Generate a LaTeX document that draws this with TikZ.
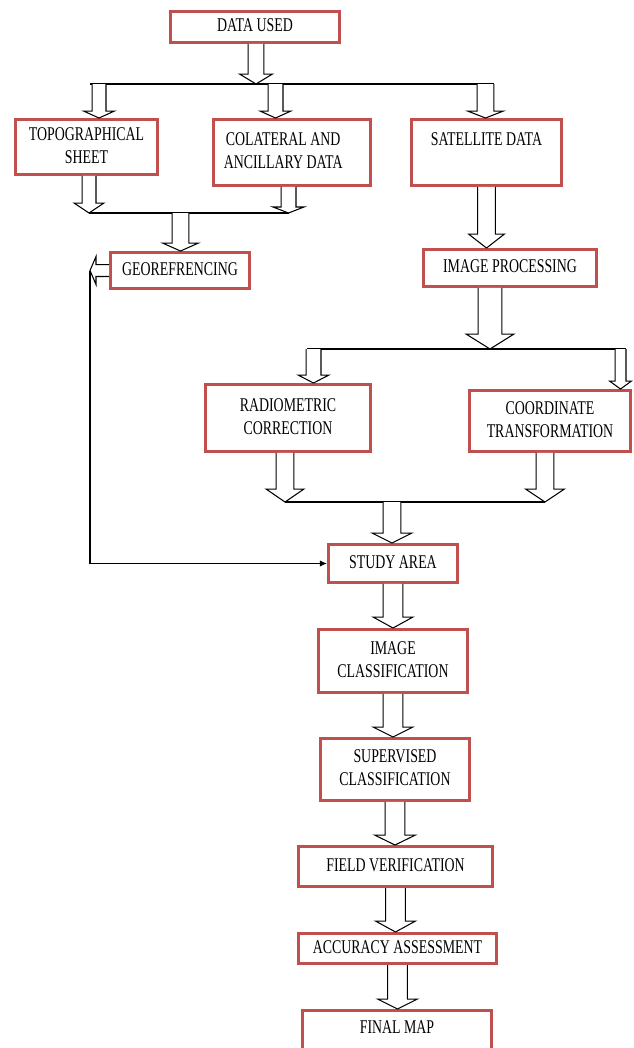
\documentclass[tikz,border=0pt]{standalone}
\usepackage{graphicx}
\usepackage{fontspec}
\setmainfont{Liberation Serif}
\usepackage{tikz}
\usetikzlibrary{calc,arrows.meta}
\definecolor{boxred}{HTML}{C0504D}
\newcommand{\pxu}{0.5669pt}
\newcommand{\vs}[1]{\scalebox{1}[1.4]{\begin{tabular}{@{}c@{}}#1\end{tabular}}}
\tikzstyle{Box}=[rectangle, draw=boxred, line width=1.7pt, fill=white, inner sep=2pt, font=\fontsize{7.9}{9.3}\selectfont]
\tikzstyle{Fat}=[draw=black, fill=white, line width=0.6pt, line join=miter]
\tikzstyle{Bar}=[draw=black, line width=0.6pt]
% hollow block arrow: start, tip, shaft half, head half, head length (px)
\newcommand{\fatarrow}[5]{%
  \path[Fat] let \p1=#1, \p2=#2 in
    (\x2-#3*\pxu,\y1) -- (\x2-#3*\pxu,\y2+#5*\pxu) -- (\x2-#4*\pxu,\y2+#5*\pxu) -- (\x2,\y2)
    -- (\x2+#4*\pxu,\y2+#5*\pxu) -- (\x2+#3*\pxu,\y2+#5*\pxu) -- (\x2+#3*\pxu,\y1);}

\begin{document}
\begin{tikzpicture}[x=0.02cm, y=-0.02cm]
    \useasboundingbox (0,0) rectangle (634,1048);
    \clip (0,0) rectangle (634,1048);
    \path
    (255,27) node[Box, minimum width=3.38cm, minimum height=0.62cm] (used) {\vs{DATA USED}}
    (86.5,147) node[Box, minimum width=2.84cm, minimum height=1.10cm] (topo) {\vs{TOPOGRAPHICAL\\SHEET}}
    (292,152.5) node[Box, minimum width=3.14cm, minimum height=1.32cm] (colat) {\vs{COLATERAL AND\\ANCILLARY DATA}\hspace*{10pt}}
    (486.5,152.5) node[Box, minimum width=3.00cm, minimum height=1.32cm] (sat) {\vs{SATELLITE DATA\\ \mbox{}}}
    (180,270.5) node[Box, minimum width=2.78cm, minimum height=0.72cm] (georef) {\vs{GEOREFRENCING}}
    (510,268) node[Box, minimum width=3.46cm, minimum height=0.74cm] (improc) {\vs{IMAGE PROCESSING}}
    (288,418) node[Box, minimum width=3.30cm, minimum height=1.34cm] (radio) {\vs{RADIOMETRIC\\CORRECTION}}
    (550,421) node[Box, minimum width=3.22cm, minimum height=1.22cm] (coord) {\vs{COORDINATE\\TRANSFORMATION}}
    (393,563.5) node[Box, minimum width=2.58cm, minimum height=0.76cm] (study) {\vs{STUDY AREA}}
    (393,661) node[Box, minimum width=2.98cm, minimum height=1.26cm] (imclass) {\vs{IMAGE\\CLASSIFICATION}}
    (395,769.5) node[Box, minimum width=2.98cm, minimum height=1.24cm] (superv) {\vs{SUPERVISED\\CLASSIFICATION}}
    (395.5,866.5) node[Box, minimum width=3.88cm, minimum height=0.80cm] (field) {\vs{FIELD VERIFICATION}}
    (397.5,948.5) node[Box, minimum width=3.96cm, minimum height=0.60cm] (accur) {\vs{ACCURACY ASSESSMENT}}
    (397,1009) node[Box, anchor=north, minimum width=3.78cm, minimum height=1.18cm] (final) {\vs{FINAL MAP\\ \mbox{}}};

    % junction points on the bars
    \path (90,84) coordinate (b1w) (494,84) coordinate (b1e) (256,84) coordinate (j0)
    (99,84) coordinate (j1) (275.5,84) coordinate (j2) (485.5,84) coordinate (j3)
    (89,213) coordinate (b2w) (288.5,213) coordinate (b2e) (180.5,213) coordinate (j4)
    (307,349) coordinate (b3w) (626,349) coordinate (b3e) (490,349) coordinate (j5)
    (313.5,349) coordinate (j6) (620.5,349) coordinate (j7)
    (285,502) coordinate (b4w) (545,502) coordinate (b4e) (392,502) coordinate (j8)
    (90,270.5) coordinate (fb);

    \draw[Bar] (b1w) -- (b1e);
    \draw[Bar] (b2w) -- (b2e);
    \draw[Bar] (b3w) -- (b3e);
    \draw[Bar] (b4w) -- (b4e);

    \fatarrow{(used.south)}{(j0)}{8}{16.5}{10}
    \fatarrow{(j1)}{(j1 |- topo.north)}{7}{15.5}{7}
    \fatarrow{(j2)}{(j2 |- colat.north)}{7.5}{15.5}{7}
    \fatarrow{(j3)}{(j3 |- sat.north)}{8.5}{18}{7}
    \fatarrow{(topo.south)}{(b2w)}{7}{15}{10}
    \fatarrow{(colat.south)}{(b2e)}{7.5}{15.5}{6}
    \fatarrow{(j4)}{(j4 |- georef.north)}{8.5}{18}{8}
    \fatarrow{(sat.south)}{(sat.south |- improc.north)}{9}{18}{14}
    \fatarrow{(improc.south)}{(j5)}{12}{24}{15}
    \fatarrow{(j6)}{(j6 |- radio.north)}{7.5}{15.5}{8}
    \fatarrow{(j7)}{(j7 |- coord.north)}{5.5}{11}{8}
    \fatarrow{(radio.south)}{(b4w)}{9}{19}{13}
    \fatarrow{(coord.south)}{(b4e)}{9}{19.5}{13}
    \fatarrow{(j8)}{(j8 |- study.north)}{9}{20}{10}
    \fatarrow{(study.south)}{(study.south |- imclass.north)}{10}{20}{11}
    \fatarrow{(imclass.south)}{(imclass.south |- superv.north)}{10}{20}{10}
    \fatarrow{(superv.south)}{(superv.south |- field.north)}{10}{20.5}{10}
    \fatarrow{(field.south)}{(field.south |- accur.north)}{10}{20}{11}
    \fatarrow{(accur.south)}{(accur.south |- final.north)}{10}{20}{10}

    % feedback from georefrencing to study area
    \path[Fat] let \p1=(georef.west), \p2=(fb) in
      (\x1,\y1+6*\pxu) -- (\x2+6*\pxu,\y1+6*\pxu) -- (\x2+6*\pxu,\y1+14*\pxu) -- (\x2,\y2)
      -- (\x2+6*\pxu,\y1-14*\pxu) -- (\x2+6*\pxu,\y1-6*\pxu) -- (\x1,\y1-6*\pxu);
    \draw[Bar, -{Latex[length=4pt,width=3.5pt]}] (fb) |- (study.west);
\end{tikzpicture}
\end{document}
